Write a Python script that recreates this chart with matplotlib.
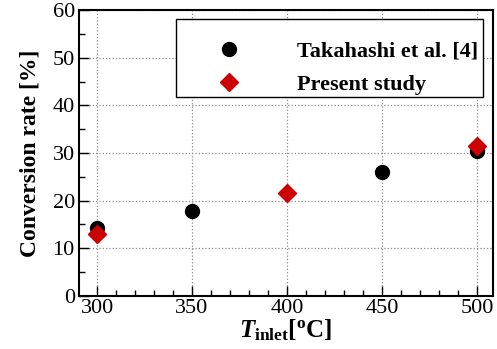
import numpy as np
import matplotlib
matplotlib.use("Agg")
from matplotlib import pyplot as plt
from matplotlib.ticker import MultipleLocator

plt.rcParams['font.family'] = 'Liberation Serif'
plt.rcParams['mathtext.fontset'] = 'custom'
plt.rcParams['mathtext.rm'] = 'Liberation Serif:bold'
plt.rcParams['mathtext.it'] = 'Liberation Serif:bold:italic'
plt.rcParams['mathtext.bf'] = 'Liberation Serif:bold'

# Takahashi et al. [4]
t_ref = [300, 350, 450, 500]
conv_ref = [14.3, 17.8, 26.0, 30.5]

# Present study
t_sim = [300, 400, 500]
conv_sim = [12.9, 21.7, 31.4]

fig = plt.figure(figsize=(4.97, 3.49), dpi=100)
ax = fig.add_axes([0.159, 0.152, 0.833, 0.819])

ax.grid(True, which='major', linestyle=':', color='#8a8a8a', linewidth=0.9)
ax.set_axisbelow(True)

ax.plot(t_ref, conv_ref, 'o', color='black', markersize=10, label='Takahashi et al. [4]', zorder=3)
ax.plot(t_sim, conv_sim, 'D', color='#cc0000', markersize=9, label='Present study', zorder=4)

ax.set_xlim(290.5, 508.5)
ax.set_ylim(0, 60)
ax.xaxis.set_major_locator(MultipleLocator(50))
ax.xaxis.set_minor_locator(MultipleLocator(10))
ax.yaxis.set_major_locator(MultipleLocator(10))
ax.yaxis.set_minor_locator(MultipleLocator(5))
ax.tick_params(which='both', direction='in', labelsize=16, width=1)
ax.tick_params(which='major', length=7)
ax.tick_params(which='minor', length=4)
ax.tick_params(axis='x', pad=2)
ax.tick_params(axis='y', pad=3)
for s in ax.spines.values():
    s.set_linewidth(1.5)

ax.set_ylabel('Conversion rate [%]', fontsize=17, fontweight='bold', labelpad=9)
ax.set_xlabel(r'$T_{\mathrm{inlet}}[^{\mathrm{o}}\mathrm{C}]$', fontsize=18, labelpad=0)

# blank small title gives the extra space above the first entry
leg = ax.legend(loc='upper left', bbox_to_anchor=(0.234, 0.703, 0.742, 0.266), mode='expand',
                borderaxespad=0, fancybox=False, edgecolor='black', framealpha=1,
                prop={'weight': 'bold', 'size': 16}, title=' ', title_fontsize=6,
                borderpad=0.1, handlelength=4.6, handletextpad=0.75, labelspacing=0.55)
leg.get_frame().set_linewidth(1.0)

fig.savefig('out.png', dpi=100)
